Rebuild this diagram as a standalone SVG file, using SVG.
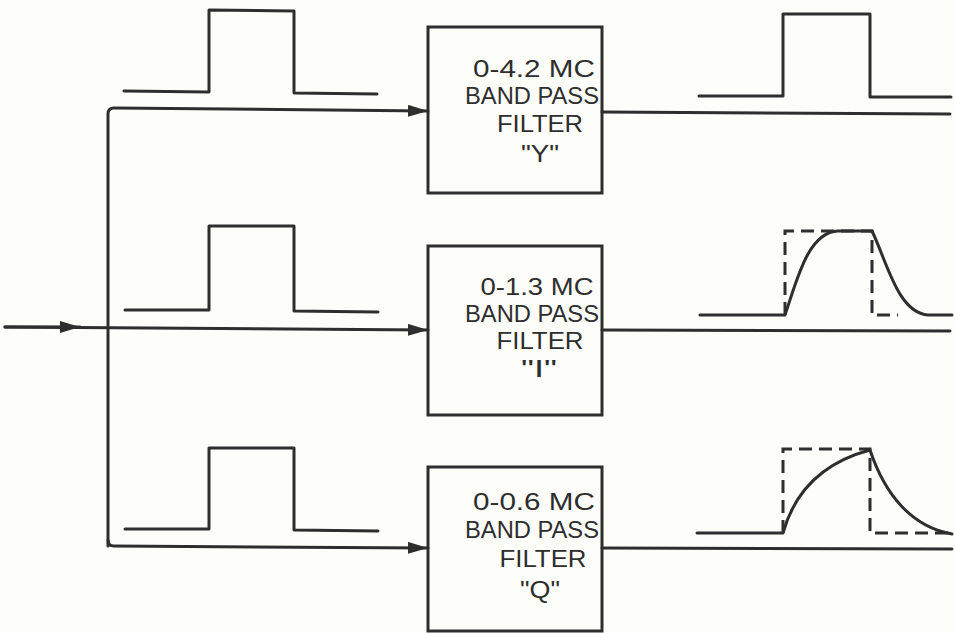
<svg xmlns="http://www.w3.org/2000/svg" width="955" height="633" viewBox="0 0 955 633">
<defs>
<style>
.ln{fill:none;stroke:#2e2e2e;stroke-width:3;stroke-linecap:round;stroke-linejoin:round}
.dash{fill:none;stroke:#2e2e2e;stroke-width:3;stroke-dasharray:13 7}
.box{fill:none;stroke:#2e2e2e;stroke-width:3}
.t{font-family:"Liberation Sans",Arial,sans-serif;font-size:23px;fill:#2e2e2e;text-anchor:middle}
</style>
<marker id="arr" markerWidth="20" markerHeight="12" refX="20" refY="6" orient="auto" markerUnits="userSpaceOnUse">
<path d="M0,0 L20,6 L0,12 Z" fill="#2e2e2e"/>
</marker>
</defs>
<rect width="955" height="633" fill="#fdfdf9"/>
<g id="connectors">
<path class="ln" d="M5,327 L428,330" marker-end="url(#arr)"/>
<path class="ln" d="M5,327 L80,327" marker-end="url(#arr)"/>
<path class="ln" d="M108,546 L108,114 Q108,108 114,108 L428,111" marker-end="url(#arr)"/>
<path class="ln" d="M108,540 Q108,546 114,546 L428,548" marker-end="url(#arr)"/>
<path class="ln" d="M602,112 L950,114"/>
<path class="ln" d="M602,330 L950,331"/>
<path class="ln" d="M602,548 L952,549"/>
</g>
<g id="input-waveforms">
<path class="ln" d="M124,91 L209,92 L209,10 L294,11 L294,93 L377,94"/>
<path class="ln" d="M125,310 L209,310 L209,226 L294,226 L294,311 L378,312"/>
<path class="ln" d="M125,529 L209,529 L209,448 L294,448 L294,530 L378,531"/>
</g>
<g id="box-y">
<rect class="box" x="428" y="27" width="174" height="166"/>
<text class="t" x="534" y="77" textLength="122" lengthAdjust="spacingAndGlyphs">0-4.2 MC</text>
<text class="t" x="532" y="104" textLength="134" lengthAdjust="spacingAndGlyphs">BAND PASS</text>
<text class="t" x="540" y="132" textLength="86" lengthAdjust="spacingAndGlyphs">FILTER</text>
<text class="t" x="540" y="162" textLength="38" lengthAdjust="spacingAndGlyphs">"Y"</text>
</g>
<g id="box-i">
<rect class="box" x="428" y="246" width="174" height="169"/>
<text class="t" x="537" y="295" textLength="113" lengthAdjust="spacingAndGlyphs">0-1.3 MC</text>
<text class="t" x="532" y="322" textLength="134" lengthAdjust="spacingAndGlyphs">BAND PASS</text>
<text class="t" x="540" y="349" textLength="87" lengthAdjust="spacingAndGlyphs">FILTER</text>
<text class="t" x="539" y="377" textLength="36" lengthAdjust="spacingAndGlyphs">"I"</text>
</g>
<g id="box-q">
<rect class="box" x="428" y="467" width="174" height="164"/>
<text class="t" x="534" y="510" textLength="122" lengthAdjust="spacingAndGlyphs">0-0.6 MC</text>
<text class="t" x="532" y="538" textLength="134" lengthAdjust="spacingAndGlyphs">BAND PASS</text>
<text class="t" x="543" y="567" textLength="87" lengthAdjust="spacingAndGlyphs">FILTER</text>
<text class="t" x="540" y="598" textLength="40" lengthAdjust="spacingAndGlyphs">"Q"</text>
</g>
<g id="output-waveforms">
<path class="ln" d="M699,96 L783,96 L783,14 L870,14 L870,97 L951,97"/>
<path class="dash" d="M785,315 L785,231 L872,231 L872,315 L898,315"/>
<path class="ln" d="M700,315 L785,315 C797,280 808,232 838,231 L872,231 C887,262 898,313 928,315 L952,315"/>
<path class="dash" d="M783,533 L783,449 L870,449 L870,533 L952,533"/>
<path class="ln" d="M697,533 L783,533 C795,490 825,462 870,450 C885,495 912,527 952,534"/>
</g>
</svg>
